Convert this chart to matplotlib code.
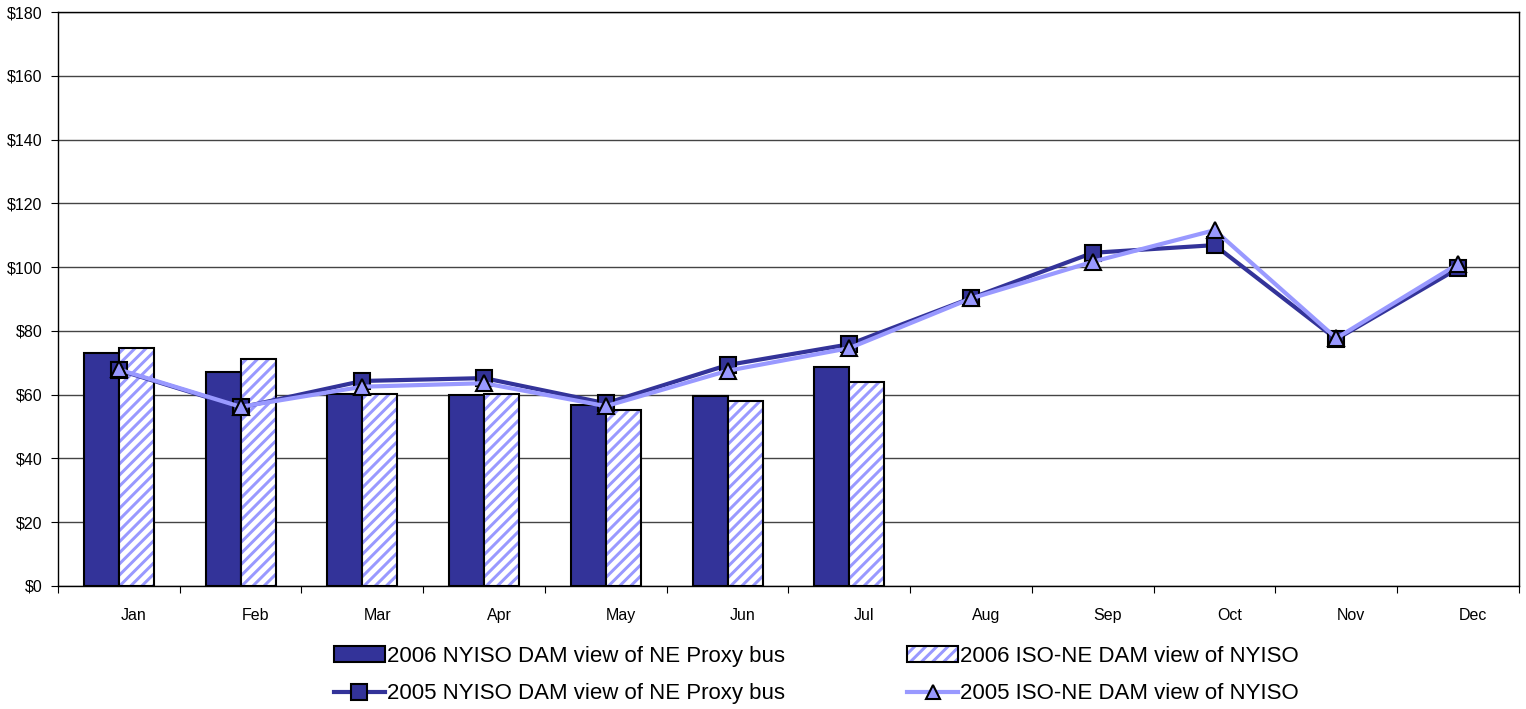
import numpy as np
import matplotlib.pyplot as plt
import matplotlib.transforms as mtransforms
from matplotlib.patches import Patch
from matplotlib.lines import Line2D

plt.rcParams['font.family'] = ['Liberation Sans', 'DejaVu Sans']
plt.rcParams['hatch.linewidth'] = 3.5

months = ["Jan", "Feb", "Mar", "Apr", "May", "Jun", "Jul", "Aug", "Sep", "Oct", "Nov", "Dec"]

# 2006 bars (Jan-Jul only)
nyiso_2006 = [73.0, 67.1, 60.2, 59.9, 56.8, 59.6, 68.7]
isone_2006 = [74.7, 71.2, 60.1, 60.3, 55.2, 57.9, 64.0]

# 2005 lines
nyiso_2005 = [67.7, 56.0, 64.3, 65.2, 57.3, 69.3, 75.8, 90.3, 104.5, 106.9, 77.4, 99.6]
isone_2005 = [67.9, 56.2, 62.5, 63.6, 56.4, 67.5, 74.6, 90.2, 101.7, 111.6, 77.7, 101.0]

dark = "#333399"
light = "#9999FF"

fig = plt.figure(figsize=(15.26, 7.09), dpi=100)
ax = fig.add_axes([0.038, 0.1735, 0.9574, 0.8095])

x = np.arange(len(months))
xb = np.arange(len(nyiso_2006))
w = 0.2875

ax.bar(xb - w / 2, nyiso_2006, w, color=dark, edgecolor="black", linewidth=1.5, zorder=2)
ax.bar(xb + w / 2, isone_2006, w, color=light, edgecolor="white", linewidth=0, hatch="///", zorder=2)
ax.bar(xb + w / 2, isone_2006, w, fill=False, edgecolor="black", linewidth=1.5, zorder=2.1)

ax.plot(x, nyiso_2005, color=dark, linewidth=3, marker="s", markersize=12,
        markerfacecolor=dark, markeredgecolor="black", markeredgewidth=1.5, zorder=3)
ax.plot(x, isone_2005, color=light, linewidth=3, marker="^", markersize=12,
        markerfacecolor=light, markeredgecolor="black", markeredgewidth=1.5, zorder=4)

ax.set_xlim(-0.5, 11.5)
ax.set_ylim(0, 180)
ax.set_yticks(np.arange(0, 181, 20))
ax.set_yticklabels(["$%d" % v for v in range(0, 181, 20)], fontsize=11.5)
ax.yaxis.grid(True, color="#444444", linewidth=1)
ax.set_axisbelow(True)

# category ticks between months, labels in the middle
ax.set_xticks(np.arange(-0.5, 12, 1))
ax.set_xticklabels([])
ax.set_xticks(x, minor=True)
ax.set_xticklabels(months, minor=True, fontsize=11.5)
ax.tick_params(axis="x", which="minor", length=0, pad=16)
ax.tick_params(axis="x", which="major", length=5, direction="out")
ax.tick_params(axis="y", length=5, direction="out", pad=6)
offset = mtransforms.ScaledTranslation(0.15, 0, fig.dpi_scale_trans)
for lbl in ax.get_xticklabels(minor=True):
    lbl.set_transform(lbl.get_transform() + offset)

for s in ax.spines.values():
    s.set_color("black")
    s.set_linewidth(1)

handles = [
    Patch(facecolor=dark, edgecolor="black", linewidth=1.5),
    Line2D([], [], color=dark, linewidth=3, marker="s", markersize=12,
           markerfacecolor=dark, markeredgecolor="black", markeredgewidth=1.5),
    (Patch(facecolor=light, edgecolor="white", hatch="///", linewidth=0),
     Patch(fill=False, edgecolor="black", linewidth=1.5)),
    Line2D([], [], color=light, linewidth=3, marker="^", markersize=10,
           markerfacecolor=light, markeredgecolor="black", markeredgewidth=1.5),
]
labels = [
    "2006 NYISO DAM view of NE Proxy bus",
    "2005 NYISO DAM view of NE Proxy bus",
    "2006 ISO-NE DAM view of NYISO",
    "2005 ISO-NE DAM view of NYISO",
]
fig.legend(handles, labels, loc="center", bbox_to_anchor=(0.535, 0.048), ncol=2,
           frameon=False, fontsize=16, handlelength=2.3, handletextpad=0.1,
           columnspacing=5.5, labelspacing=0.75)

fig.savefig("out.png", dpi=100)
